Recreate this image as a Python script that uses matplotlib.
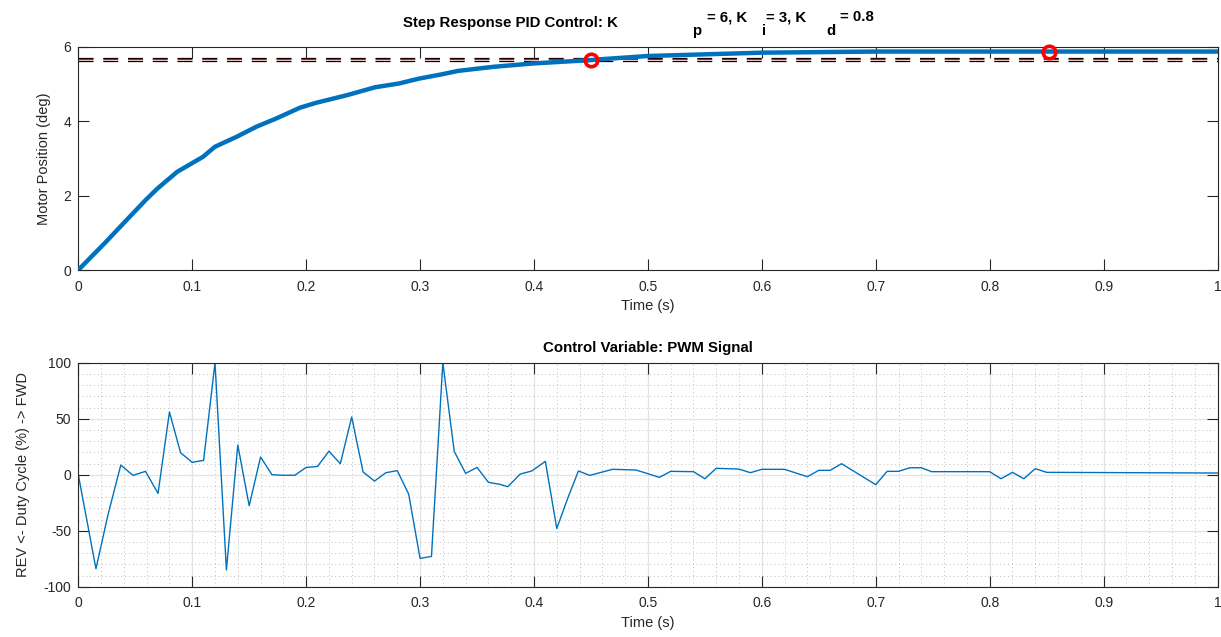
import numpy as np
import matplotlib.pyplot as plt

# step response
t_pos = [0, 0.0244, 0.0383, 0.0591, 0.0695, 0.0869, 0.1094, 0.1199, 0.139, 0.1563,
         0.1737, 0.1945, 0.2084, 0.2362, 0.2605, 0.2813, 0.2987, 0.3195, 0.3334,
         0.3646, 0.3993, 0.4496, 0.4574, 0.4999, 0.601, 0.702, 0.8515, 1.0]
pos = [0, 0.76, 1.21, 1.88, 2.19, 2.64, 3.04, 3.31, 3.58, 3.85,
       4.07, 4.36, 4.49, 4.70, 4.91, 5.01, 5.14, 5.26, 5.35,
       5.46, 5.55, 5.64, 5.66, 5.75, 5.84, 5.87, 5.87, 5.87]

# settling band and markers
band_black = [5.70, 5.62]
band_red = [5.66]
mark_t = [0.45, 0.852]
mark_v = [5.64, 5.87]

# PWM duty cycle
t_pwm = [0, 0.0155, 0.026, 0.0373, 0.048, 0.059, 0.070, 0.080, 0.0898, 0.10, 0.11,
         0.12, 0.13, 0.14, 0.15, 0.16, 0.17, 0.18, 0.19, 0.20, 0.21, 0.22, 0.23,
         0.24, 0.25, 0.26, 0.27, 0.28, 0.29, 0.30, 0.31, 0.32, 0.33, 0.34, 0.35,
         0.36, 0.37, 0.377, 0.388, 0.398, 0.41, 0.42, 0.43, 0.439, 0.449, 0.469,
         0.4895, 0.50, 0.51, 0.52, 0.54, 0.55, 0.56, 0.58, 0.59, 0.60, 0.62, 0.64,
         0.65, 0.66, 0.67, 0.70, 0.71, 0.72, 0.73, 0.74, 0.749, 0.80, 0.81, 0.82,
         0.83, 0.84, 0.85, 1.0]
pwm = [0, -84, -36, 8.6, -0.6, 3, -16.7, 56, 19.6, 11, 12.8,
       100, -85, 26.5, -27.7, 15.8, 0, -0.5, -0.5, 6.5, 7.4, 21, 9.8,
       51.5, 2.4, -5.7, 1.8, 3.6, -17.3, -74.7, -73, 100, 20.8, 1.2, 6.5,
       -6.8, -8.6, -10.7, 0.6, 3.3, 11.9, -48, -20, 3.3, -0.6, 4.8,
       4.2, 0.9, -2.4, 3, 2.7, -3.6, 5.7, 5, 1.8, 4.8, 4.8, -1.8,
       3.9, 3.9, 9.8, -8.9, 3, 3, 6.2, 6.2, 2.7, 2.7, -3.6, 2.1,
       -3.6, 5.4, 2.1, 1.5]

xticks = np.arange(0, 1.01, 0.1)
xlabels = ['0', '0.1', '0.2', '0.3', '0.4', '0.5', '0.6', '0.7', '0.8', '0.9', '1']

plt.rcParams['font.family'] = ['Liberation Sans', 'DejaVu Sans']
plt.rcParams['axes.unicode_minus'] = False
W, H = 1221, 637
fig = plt.figure(figsize=(W / 100, H / 100), dpi=100)

dark = '#262626'
blue = '#0072BD'


def style(ax):
    for s in ax.spines.values():
        s.set_color(dark)
        s.set_linewidth(0.8)
    ax.tick_params(direction='in', length=8.2, width=0.8, color=dark,
                   top=True, right=True, labelsize=10, labelcolor=dark)
    ax.tick_params(axis='x', pad=7)
    ax.tick_params(axis='y', pad=5)
    ax.set_xlim(0, 1)
    ax.set_xticks(xticks)
    ax.set_xticklabels(xlabels)


def box(x0, y0, x1, y1):
    return [x0 / W, 1 - y1 / H, (x1 - x0) / W, (y1 - y0) / H]


# top: step response
ax1 = fig.add_axes(box(78.3, 46.7, 1217.5, 270))
style(ax1)
ax1.set_ylim(0, 6)
ax1.set_yticks([0, 2, 4, 6])
ax1.plot(t_pos, pos, color=blue, lw=3.2, solid_capstyle='round', zorder=3)
for v in band_black:
    ax1.axhline(v, color='black', lw=0.9, dashes=(12, 7.8))
for v in band_red:
    ax1.axhline(v, color='red', lw=0.9, dashes=(12, 7.8))
ax1.plot(mark_t, mark_v, 'o', ms=9, mfc='none', mec='red', mew=2.6, zorder=4,
         clip_on=False)
ax1.set_xlabel('Time (s)', fontsize=10.5, color=dark, labelpad=4)
ax1.set_ylabel('Motor Position (deg)', fontsize=10.5, color=dark, labelpad=9)

# title with MATLAB's broken subscript layout
tkw = dict(fontsize=10.8, fontweight='bold', va='center', ha='left', color='black')
fig.text(402.7 / W, 1 - 23 / H, 'Step Response PID Control: K', **tkw)
fig.text(692 / W, 1 - 31 / H, 'p', **tkw)
fig.text(706.7 / W, 1 - 17 / H, '= 6, K', **tkw)
fig.text(762 / W, 1 - 31 / H, 'i', **tkw)
fig.text(766.5 / W, 1 - 17 / H, '= 3, K', **tkw)
fig.text(826.5 / W, 1 - 31 / H, 'd', **tkw)
fig.text(839.5 / W, 1 - 17 / H, '= 0.8', **tkw)

# bottom: PWM signal
ax2 = fig.add_axes(box(78.3, 362.7, 1217.5, 586.7))
style(ax2)
ax2.set_ylim(-100, 100)
ax2.set_yticks([-100, -50, 0, 50, 100])
ax2.set_xticks(np.arange(0, 1.001, 0.02), minor=True)
ax2.set_yticks(np.arange(-100, 100.1, 10), minor=True)
ax2.tick_params(which='minor', length=0)
ax2.grid(True, which='major', color='#e3e3e3', lw=0.9, ls='-')
ax2.grid(True, which='minor', color='#c0c0c0', lw=0.7, ls=(0, (1, 3)))
ax2.set_axisbelow(True)
ax2.plot(t_pwm, pwm, color=blue, lw=1.0)
ax2.set_title('Control Variable: PWM Signal', fontsize=10.8, fontweight='bold', pad=8)
ax2.set_xlabel('Time (s)', fontsize=10.5, color=dark, labelpad=4)
ax2.set_ylabel('REV <- Duty Cycle (%) -> FWD', fontsize=10.5, color=dark, labelpad=10)

fig.savefig('out.png', dpi=100)
